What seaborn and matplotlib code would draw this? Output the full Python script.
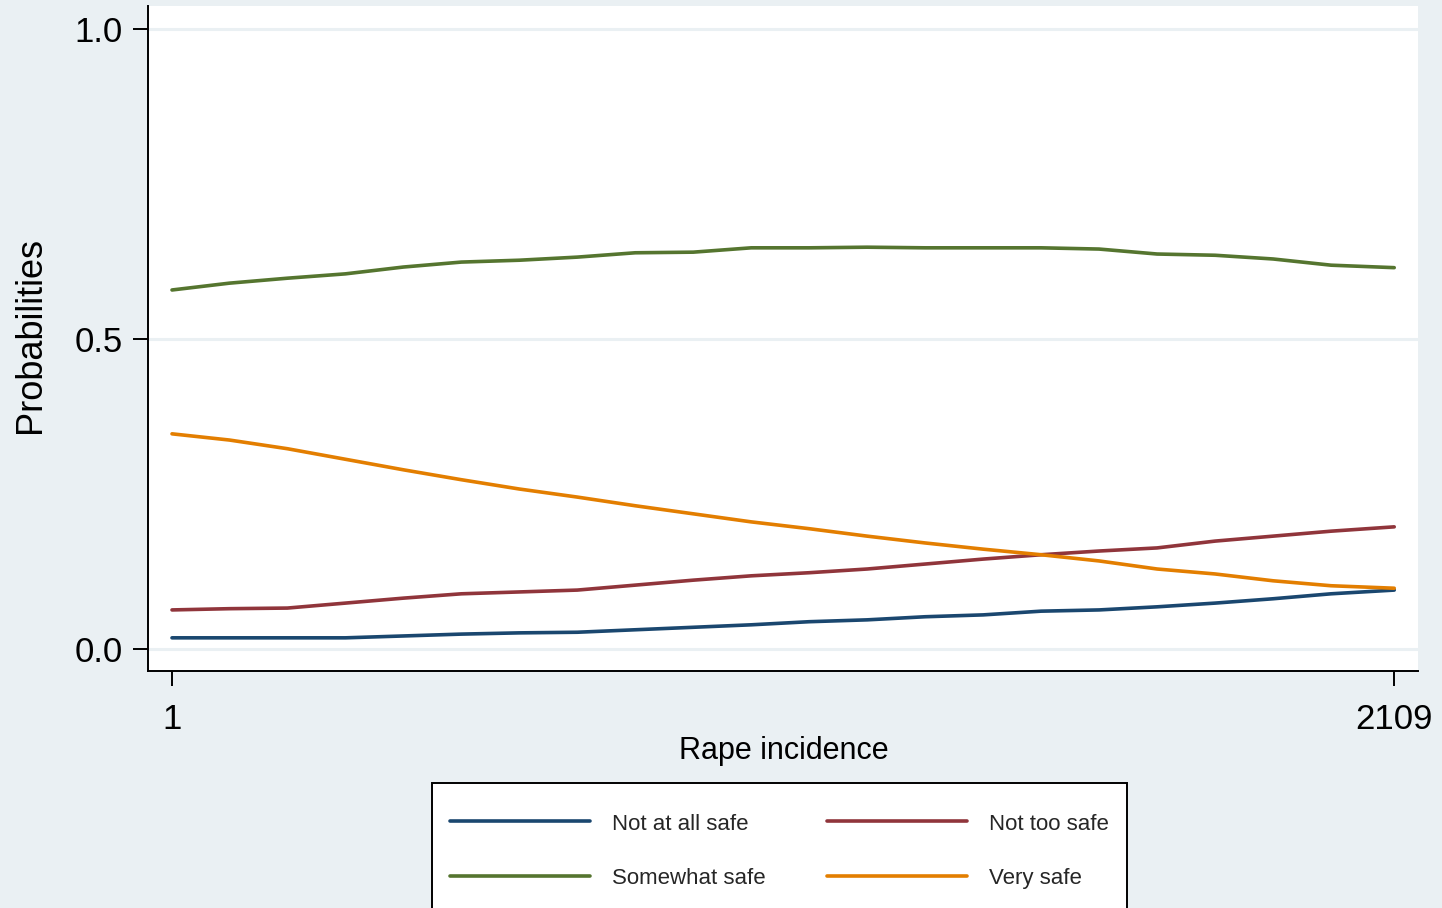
import pandas as pd
import numpy as np
import seaborn as sns
import matplotlib.pyplot as plt
from matplotlib.lines import Line2D
from matplotlib.legend_handler import HandlerLine2D

incidence = [1, 100, 200, 300, 400, 500, 600, 700, 800, 900, 1000,
             1100, 1200, 1300, 1400, 1500, 1600, 1700, 1800, 1900, 2000, 2109]

not_at_all_safe = [0.018, 0.018, 0.018, 0.018, 0.021, 0.024, 0.026, 0.027, 0.031, 0.035, 0.039,
                   0.044, 0.047, 0.052, 0.055, 0.061, 0.063, 0.068, 0.074, 0.081, 0.089, 0.095]
not_too_safe = [0.063, 0.065, 0.066, 0.074, 0.082, 0.089, 0.092, 0.095, 0.103, 0.111, 0.118,
                0.123, 0.129, 0.137, 0.145, 0.152, 0.158, 0.163, 0.174, 0.182, 0.190, 0.197]
somewhat_safe = [0.579, 0.590, 0.598, 0.605, 0.616, 0.624, 0.627, 0.632, 0.639, 0.640, 0.647,
                 0.647, 0.648, 0.647, 0.647, 0.647, 0.645, 0.637, 0.635, 0.629, 0.619, 0.615]
very_safe = [0.347, 0.337, 0.323, 0.306, 0.289, 0.273, 0.258, 0.245, 0.231, 0.218, 0.205,
             0.194, 0.182, 0.171, 0.161, 0.152, 0.142, 0.129, 0.121, 0.110, 0.102, 0.098]

categories = ['Not at all safe', 'Not too safe', 'Somewhat safe', 'Very safe']
colors = ['#1a476f', '#90353b', '#55752f', '#e37e00']

df = pd.DataFrame({'incidence': incidence,
                   'Not at all safe': not_at_all_safe,
                   'Not too safe': not_too_safe,
                   'Somewhat safe': somewhat_safe,
                   'Very safe': very_safe})
long = df.melt(id_vars='incidence', var_name='outcome', value_name='prob')

sns.set_style('white')
plt.rcParams['font.family'] = ['Liberation Sans', 'DejaVu Sans']

bg = '#eaf0f3'
fig = plt.figure(figsize=(14.42, 9.08), dpi=100, facecolor=bg)
ax = fig.add_axes([148/1442, 1 - 671/908, 1270/1442, 665/908])
ax.set_facecolor('white')

for y in [0.0, 0.5, 1.0]:
    ax.axhline(y, color='#eaf0f3', lw=2.2, zorder=0)

sns.lineplot(data=long, x='incidence', y='prob', hue='outcome', hue_order=categories,
             palette=colors, linewidth=2.6, legend=False, ax=ax, zorder=3)

ax.set_xlim(-40.4, 2150)
ax.set_ylim(-0.0355, 1.037)
ax.set_xticks([1, 2109])
ax.set_xticklabels(['1', '2109'])
ax.set_yticks([0.0, 0.5, 1.0])
ax.set_yticklabels(['0.0', '0.5', '1.0'])

for s in ['top', 'right']:
    ax.spines[s].set_visible(False)
for s in ['left', 'bottom']:
    ax.spines[s].set_color('black')
    ax.spines[s].set_linewidth(1.4)

ax.tick_params(axis='both', colors='black', labelsize=25, length=11, width=1.4,
               direction='out', bottom=True, left=True)
ax.tick_params(axis='x', pad=12)
ax.tick_params(axis='y', pad=7)

ax.set_xlabel('Rape incidence', fontsize=22, color='black')
ax.xaxis.set_label_coords(0.501, -0.097)
ax.set_ylabel('Probabilities', fontsize=26, color='black')
ax.yaxis.set_label_coords(-0.079, 0.505)


# legend lines sit a little high next to the text, push them down a bit
class LowerLine(HandlerLine2D):
    def create_artists(self, legend, orig_handle, xdescent, ydescent, width, height, fontsize, trans):
        arts = super().create_artists(legend, orig_handle, xdescent, ydescent,
                                      width, height, fontsize, trans)
        for a in arts:
            a.set_ydata(np.asarray(a.get_ydata()) - 4.3)
        return arts


# row-wise legend order like the original: matplotlib fills columns first
order = [0, 2, 1, 3]
handles = [Line2D([0], [0], color=colors[i], lw=2.6) for i in order]
labels = [categories[i] for i in order]
leg = fig.legend(handles, labels, loc='upper left',
                 bbox_to_anchor=(432/1442, 1 - 783/908), borderaxespad=0,
                 ncol=2, frameon=True, fancybox=False, shadow=False, fontsize=16,
                 handlelength=6.3, handleheight=2.72, handletextpad=1.0,
                 columnspacing=2.75, labelspacing=0.42, borderpad=0.81,
                 handler_map={Line2D: LowerLine()})
leg.get_frame().set_edgecolor('black')
leg.get_frame().set_linewidth(1.4)
leg.get_frame().set_facecolor('white')
leg.get_frame().set_alpha(1)

fig.savefig('out.png', dpi=100, facecolor=bg)
